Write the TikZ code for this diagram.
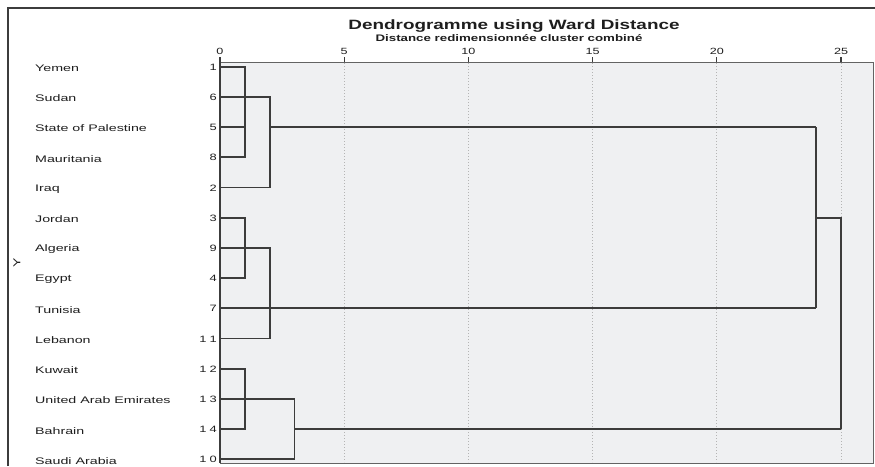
\documentclass[tikz,border=0pt]{standalone}
\usepackage{fontspec}
\setmainfont{Liberation Sans}
\newfontfamily\lblfont[FakeStretch=1.5]{Liberation Sans}
\newfontfamily\numfont[FakeStretch=1.4]{Liberation Sans}
\newfontfamily\ttlfont[FakeStretch=1.4]{Liberation Sans}
\definecolor{panelgray}{HTML}{EFF0F2}
\definecolor{linegray}{HTML}{3C3C3C}
\definecolor{gridgray}{HTML}{B4B4B4}
\definecolor{txtgray}{HTML}{1E1E1E}
\begin{document}
\begin{tikzpicture}[x=1pt,y=-1pt,
  den/.style={draw=linegray,line width=1.7pt,line join=miter},
  grid/.style={draw=gridgray,line width=1pt,dotted},
  tick/.style={draw=linegray,line width=1.2pt},
  country/.style={anchor=west,inner sep=0pt,font=\lblfont\fontsize{9.5}{10}\selectfont,text=txtgray},
  leafnum/.style={anchor=east,inner sep=0pt,font=\numfont\fontsize{9.2}{10}\selectfont,text=txtgray},
  ticklbl/.style={anchor=base,inner sep=0pt,font=\numfont\fontsize{9}{10}\selectfont,text=txtgray}]
\useasboundingbox (0,0) rectangle (875,466);
\fill[white] (0,0) rectangle (875,466);

% outer frame (left and top edges)
\draw[linegray,line width=2pt] (8,466) -- (8,8) -- (875,8);

% titles
\node[anchor=base,inner sep=0pt,font=\ttlfont\bfseries\fontsize{13.5}{15}\selectfont,text=txtgray] (title) at (514,29) {Dendrogramme using Ward Distance};
\node[anchor=base,inner sep=0pt,font=\ttlfont\bfseries\fontsize{9.5}{10}\selectfont,text=txtgray] (subtitle) at (509,41) {Distance redimensionnée cluster combiné};

% plot panel
\fill[panelgray] (220,62) rectangle (873,463);
\draw[draw=linegray!80,line width=1pt] (220,62) -- (873,62) -- (873,463) -- (220,463);

% grid lines, ticks and tick labels
\foreach \d in {5,10,15,20,25}{
  \draw[grid] ({220+24.84*\d},63) -- ({220+24.84*\d},462);
}
\foreach \d in {0,5,10,15,20,25}{
  \draw[tick] ({220+24.84*\d},57) -- ({220+24.84*\d},62);
  \node[ticklbl] (t\d) at ({220+24.84*\d},54) {\d};
}
% axis line
\draw[linegray,line width=1.8pt] (220,57) -- (220,463);

% leaves: name, case number
\foreach \i/\name/\num in {0/Yemen/1, 1/Sudan/6, 2/State of Palestine/5, 3/Mauritania/8,
  4/Iraq/2, 5/Jordan/3, 6/Algeria/9, 7/Egypt/4, 8/Tunisia/7, 9/Lebanon/1\kern3pt1,
  10/Kuwait/1\kern3pt2, 11/United Arab Emirates/1\kern3pt3, 12/Bahrain/1\kern3pt4,
  13/Saudi Arabia/1\kern3pt0}{
  \coordinate (l\i) at (220,{66.7+30.2*\i});
  \node[country] (c\i) at (35,{68.2+30.2*\i}) {\name};
  \node[leafnum] (n\i) at (217,{67.2+30.2*\i}) {\num};
}
\node[rotate=90,inner sep=0pt,font=\numfont\fontsize{10}{11}\selectfont,text=txtgray] (ylab) at (17,263) {Y};

% merge levels
\coordinate (d1) at ({220+24.84*1},0);
\coordinate (d2) at ({220+24.84*2},0);
\coordinate (d3) at ({220+24.84*3},0);
\coordinate (d24) at ({220+24.84*24},0);
\coordinate (d25) at ({220+24.84*25},0);

% cluster 1: rows 0-4
\draw[den] (l0) -- (l0-|d1) -- (l3-|d1) -- (l3);
\draw[den] (l1) -- (l1-|d1);
\draw[den] (l2) -- (l2-|d1);
\draw[den] (l1-|d1) -- (l1-|d2) -- (l4-|d2) -- (l4);
\draw[den] (l2-|d2) -- (l2-|d24);

% cluster 2: rows 5-9
\draw[den] (l5) -- (l5-|d1) -- (l7-|d1) -- (l7);
\draw[den] (l6) -- (l6-|d1);
\draw[den] (l6-|d1) -- (l6-|d2) -- (l9-|d2) -- (l9);
\draw[den] (l8) -- (l8-|d24);

% join of clusters 1 and 2
\draw[den] (l2-|d24) -- (l8-|d24);
\draw[den] (l5-|d24) -- (l5-|d25) -- (l12-|d25);

% cluster 3: rows 10-13
\draw[den] (l10) -- (l10-|d1) -- (l12-|d1) -- (l12);
\draw[den] (l11) -- (l11-|d1) -- (l11-|d3) -- (l13-|d3) -- (l13);
\draw[den] (l12-|d3) -- (l12-|d25);
\end{tikzpicture}
\end{document}
